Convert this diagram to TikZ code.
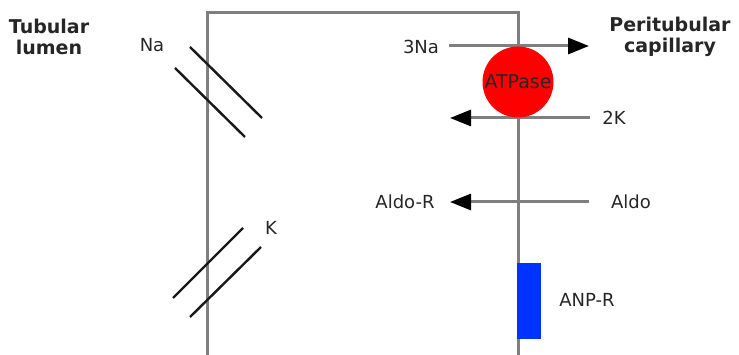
\documentclass[tikz,border=0pt]{standalone}
\usepackage{fontspec}
\setmainfont{DejaVu Sans}
\usetikzlibrary{arrows.meta}
\definecolor{wallgray}{HTML}{7F7F7F}
\definecolor{anpblue}{HTML}{0033FF}
\tikzset{
  wall/.style={draw=wallgray, line width=3pt},
  chan/.style={draw=black!90, line width=2.4pt},
  flow/.style={draw=wallgray, line width=3pt, -{Triangle[length=21pt, width=16pt, color=black]}},
  lbl/.style={font=\fontsize{18}{20}\selectfont, text=black!85, inner sep=0pt},
  head/.style={font=\fontsize{19}{21}\selectfont\bfseries, text=black!85, align=center, inner sep=0pt},
}
\begin{document}
\begin{tikzpicture}[x=1pt, y=-1pt]
\useasboundingbox (0,0) rectangle (739,355);
% cell walls
\coordinate (lb) at (207,356);
\coordinate (lt) at (207,13);
\coordinate (rt) at (518,13);
\coordinate (rb) at (518,356);
\draw[wall] (lb) -- (lt) -- (rt) -- (rb);
% Na channel
\coordinate (na1a) at (190,47); \coordinate (na1b) at (262,118);
\coordinate (na2a) at (175,68); \coordinate (na2b) at (245,137);
\draw[chan] (na1a) -- (na1b);
\draw[chan] (na2a) -- (na2b);
% K channel
\coordinate (k1a) at (173,298); \coordinate (k1b) at (243,228);
\coordinate (k2a) at (190,317); \coordinate (k2b) at (261,247);
\draw[chan] (k1a) -- (k1b);
\draw[chan] (k2a) -- (k2b);
% headings
\node[head] (tl) at (49,37) {Tubular\\lumen};
\node[head] (pc) at (670,37) {Peritubular\\capillary};
% labels
\node[lbl] (na) at (152,45) {Na};
\node[lbl] (k) at (271,228) {K};
\node[lbl] (na3) at (421,47) {3Na};
\node[lbl] (k2) at (614,118) {2K};
\node[lbl] (aldo) at (631,202) {Aldo};
\node[lbl] (aldor) at (405,202) {Aldo-R};
\node[lbl] (anpr) at (587,300) {ANP-R};
% arrows
\coordinate (na3s) at (449,46);
\coordinate (na3e) at (589,46);
\coordinate (k2s) at (590,118);
\coordinate (k2e) at (450,118);
\coordinate (aldos) at (589,202);
\coordinate (aldoe) at (450,202);
\draw[flow] (na3s) -- (na3e);
\draw[flow] (k2s) -- (k2e);
\draw[flow] (aldos) -- (aldoe);
% ATPase pump
\node[circle, fill=red, minimum size=71pt, inner sep=0pt, font=\fontsize{19}{21}\selectfont, text=black!85] (atp) at (518,82) {ATPase};
% ANP receptor
\node[fill=anpblue, minimum width=24pt, minimum height=76pt, inner sep=0pt, anchor=north west] (anp) at (517,263) {};
\end{tikzpicture}
\end{document}
